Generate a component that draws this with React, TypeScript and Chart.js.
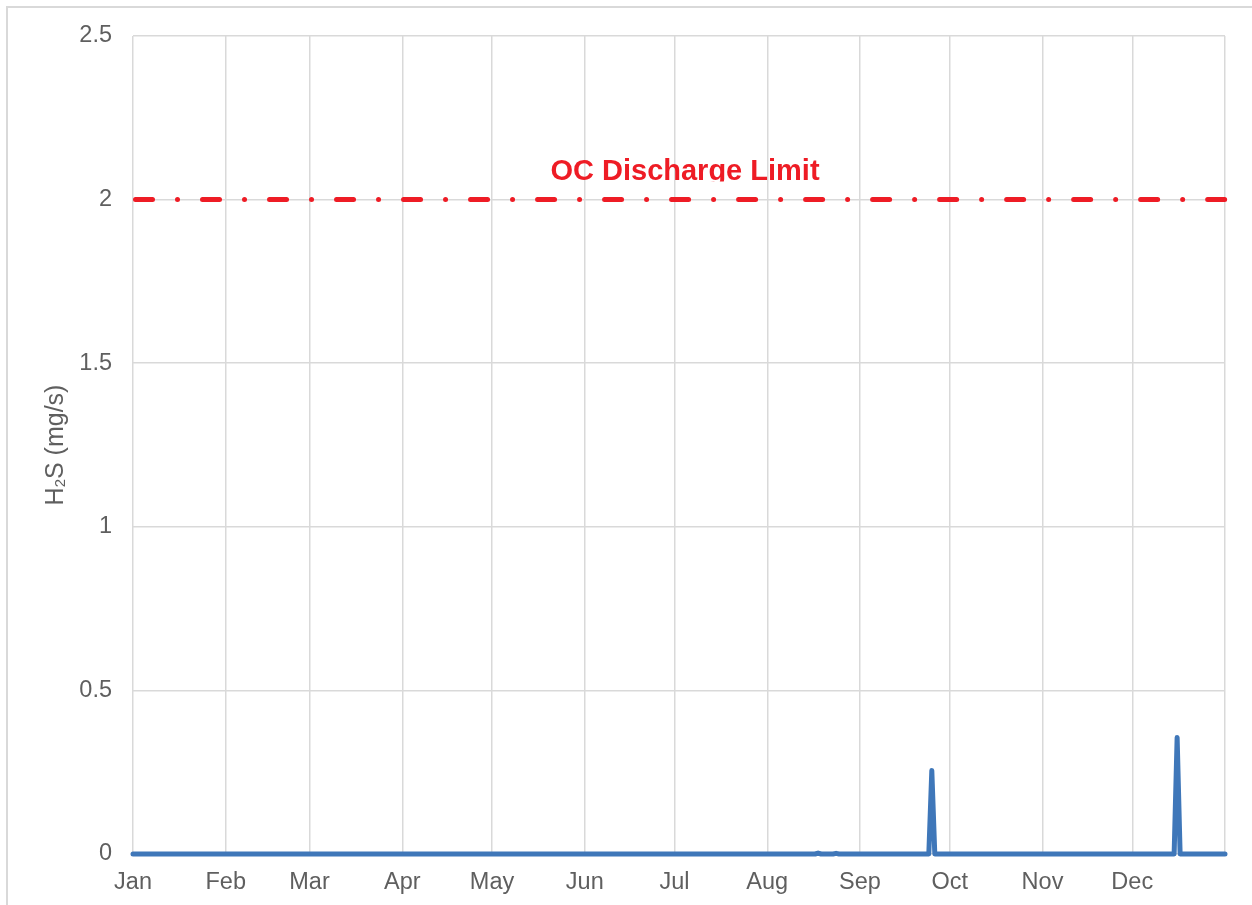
import React, { useEffect, useRef } from "react";
import { Chart, registerables } from "chart.js";

Chart.register(...registerables);

// ---- data ----
const monthLabels = ["Jan", "Feb", "Mar", "Apr", "May", "Jun", "Jul", "Aug", "Sep", "Oct", "Nov", "Dec", ""];
const monthStartDays = [0, 31, 59, 90, 120, 151, 181, 212, 243, 273, 304, 334, 365];
const dayCount = 366; // Jan 1 .. Jan 1 of next year
// non-zero daily readings (day index from Jan 1), all other days read as 0
const spikeDays = [229, 235, 267, 349];
const spikeValues = [0.003, 0.002, 0.255, 0.356];
const dischargeLimit = 2;
const limitLabel = "OC Discharge Limit";
const yMin = 0;
const yMax = 2.5;
const yStep = 0.5;

const h2sPoints = Array.from({ length: dayCount }, (_, d) => {
  const k = spikeDays.indexOf(d);
  return { x: d, y: k >= 0 ? spikeValues[k] : 0 };
});
const limitPoints = [
  { x: monthStartDays[0], y: dischargeLimit },
  { x: monthStartDays[monthStartDays.length - 1], y: dischargeLimit },
];

const TICK_COLOR = "#5f5f5f";
const FONT = "'Liberation Sans', Arial, sans-serif";

export default function App() {
  const ref = useRef<HTMLCanvasElement | null>(null);

  useEffect(() => {
    if (!ref.current) return;

    const framePlugin = {
      id: "frame",
      beforeDraw(chart: any) {
        const ctx = chart.ctx;
        ctx.save();
        ctx.fillStyle = "#ffffff";
        ctx.fillRect(0, 0, chart.width, chart.height);
        ctx.strokeStyle = "#d9d9d9";
        ctx.lineWidth = 2;
        ctx.strokeRect(7, 7, chart.width + 20, chart.height + 20);
        ctx.restore();
      },
    };

    const titlePlugin = {
      id: "ytitle",
      afterDraw(chart: any) {
        const ctx = chart.ctx;
        const area = chart.chartArea;
        const cy = (area.top + area.bottom) / 2;
        ctx.save();
        ctx.translate(63, cy);
        ctx.rotate(-Math.PI / 2);
        ctx.fillStyle = TICK_COLOR;
        ctx.textBaseline = "alphabetic";
        ctx.textAlign = "left";
        const big = `25px ${FONT}`;
        const small = `15px ${FONT}`;
        ctx.font = big;
        const wH = ctx.measureText("H").width;
        const wRest = ctx.measureText("S (mg/s)").width;
        ctx.font = small;
        const w2 = ctx.measureText("2").width;
        let x = -(wH + w2 + wRest) / 2;
        ctx.font = big;
        ctx.fillText("H", x, 0);
        x += wH;
        ctx.font = small;
        ctx.fillText("2", x, 2);
        x += w2;
        ctx.font = big;
        ctx.fillText("S (mg/s)", x, 0);
        ctx.restore();
      },
    };

    const labelPlugin = {
      id: "limitLabel",
      afterDatasetsDraw(chart: any) {
        const ctx = chart.ctx;
        const area = chart.chartArea;
        const yPix = chart.scales.y.getPixelForValue(dischargeLimit);
        const baseY = yPix - 20;
        ctx.save();
        ctx.beginPath();
        ctx.rect(0, 0, chart.width, baseY + 2);
        ctx.clip();
        ctx.fillStyle = "#ee1c25";
        ctx.font = `bold 29px ${FONT}`;
        ctx.textAlign = "center";
        ctx.textBaseline = "alphabetic";
        ctx.fillText(limitLabel, (area.left + area.right) / 2 + 6, baseY);
        ctx.restore();
      },
    };

    const chart = new Chart(ref.current, {
      type: "line",
      data: {
        datasets: [
          {
            label: "H2S",
            data: h2sPoints,
            borderColor: "#3f77b9",
            backgroundColor: "#3f77b9",
            borderWidth: 5,
            borderCapStyle: "round",
            borderJoinStyle: "round",
            pointRadius: 0,
            tension: 0,
            clip: false as any,
          },
          {
            label: limitLabel,
            data: limitPoints,
            borderColor: "#ee1c25",
            backgroundColor: "#ee1c25",
            borderWidth: 5,
            borderDash: [17, 25, 0.01, 25],
            borderDashOffset: -2.5,
            borderCapStyle: "round",
            pointRadius: 0,
            tension: 0,
            clip: false as any,
          },
        ],
      },
      options: {
        responsive: false,
        animation: false,
        devicePixelRatio: 1,
        layout: { padding: { left: 0, right: 27, top: 36, bottom: 0 } },
        plugins: {
          legend: { display: false },
          tooltip: { enabled: false },
          title: { display: false },
        },
        scales: {
          x: {
            type: "linear",
            min: monthStartDays[0],
            max: monthStartDays[monthStartDays.length - 1],
            afterBuildTicks: (scale: any) => {
              scale.ticks = monthStartDays.map((v) => ({ value: v }));
            },
            afterFit: (scale: any) => {
              scale.height = 51;
            },
            ticks: {
              autoSkip: false,
              maxRotation: 0,
              minRotation: 0,
              padding: 14,
              color: TICK_COLOR,
              font: { size: 23.5, family: FONT },
              callback: (value: any) => {
                const i = monthStartDays.indexOf(Number(value));
                return i >= 0 ? monthLabels[i] : "";
              },
            },
            grid: { color: "#d9d9d9", lineWidth: 1.5, drawTicks: false },
            border: { display: false },
          },
          y: {
            min: yMin,
            max: yMax,
            afterFit: (scale: any) => {
              scale.width = 133;
            },
            ticks: {
              stepSize: yStep,
              padding: 21,
              color: TICK_COLOR,
              font: { size: 23.5, family: FONT },
              callback: (value: any) => String(Number(value)),
            },
            grid: { color: "#d9d9d9", lineWidth: 1.5, drawTicks: false },
            border: { display: false },
          },
        },
      } as any,
      plugins: [framePlugin, titlePlugin, labelPlugin],
    });

    return () => chart.destroy();
  }, []);

  return (
    <div style={{ position: "absolute", left: 0, top: 0, width: 1252, height: 905, background: "#fff" }}>
      <canvas ref={ref} width={1252} height={905} style={{ display: "block", width: 1252, height: 905 }} />
    </div>
  );
}
